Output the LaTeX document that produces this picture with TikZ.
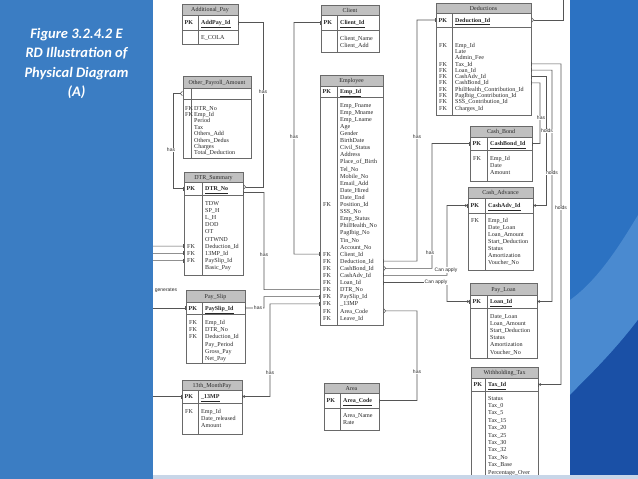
\documentclass[tikz,border=0pt]{standalone}
\usepackage{fontspec}
\setmainfont{Liberation Serif}
\newfontfamily\titlefont{Carlito}
\newfontfamily\lblfont{Liberation Sans}
\usetikzlibrary{arrows.meta,fit}

\definecolor{panel}{RGB}{59,125,195}
\definecolor{hdrc}{RGB}{192,192,192}
\definecolor{tblc}{RGB}{105,105,105}
\definecolor{txtc}{RGB}{40,40,40}
\definecolor{linec}{RGB}{85,85,85}
\definecolor{stripA}{RGB}{44,114,194}
\definecolor{stripL}{RGB}{74,138,208}
\definecolor{stripD}{RGB}{26,80,166}
\definecolor{bottomc}{RGB}{200,214,232}

\tikzset{
  tbl/.style={draw=tblc, line width=0.75pt},
  ttl/.style={font=\fontsize{6}{6}\selectfont, text=txtc, inner sep=0, anchor=base},
  pkt/.style={font=\fontsize{6}{6}\selectfont\bfseries, text=txtc, inner sep=0, anchor=base west},
  fldt/.style={font=\fontsize{6.1}{6}\selectfont, text=txtc, inner sep=0, anchor=base west},
  conn/.style={draw=linec, line width=0.55pt},
  lbl/.style={font=\lblfont\fontsize{5}{5}\selectfont, text=txtc, inner sep=0.5pt, fill=white},
  titlet/.style={font=\titlefont\bfseries\itshape\fontsize{14.5}{19.3}\selectfont, text=white, align=center, inner sep=0}
}

% name x1 x2 div ytop yh ypk ybot title
\newcommand\ertable[9]{%
  \fill[hdrc] (#2,#5) rectangle (#3,#6);
  \draw[tbl] (#2,#6) -- (#3,#6);
  \draw[tbl] (#2,#7) -- (#3,#7);
  \draw[tbl] (#4,#6) -- (#4,#8);
  \node[tbl, fit={(#2,#5) (#3,#8)}, inner sep=0pt] (#1) {};
  \node[ttl] (#1-title) at ({(#2+#3)/2},{(#5+#6)/2+2.1}) {#9};
  \coordinate (#1-pky) at (#2,{(#6+#7)/2});
}
% name x1 div y key
\newcommand\erpk[5]{%
  \node[pkt] (#1-pkl) at (#2+2.5,#4+2.1) {PK};
  \node[pkt] (#1-pkn) at (#3+3,#4+2.1) {\underline{#5}};
}
% name x yfirst sp list
\newcommand\errows[5]{%
  \foreach \t [count=\i from 0] in {#5} {
    \node[fldt] (#1-f\i) at (#2,{#3+\i*#4+2.1}) {\t};
    \coordinate (#1-r\i) at (#2,{#3+\i*#4});
  }
}
% name x yfirst sp indices
\newcommand\erfk[5]{%
  \foreach \i in {#5} {\node[fldt] (#1-k\i) at (#2,{#3+\i*#4+2.1}) {FK};}
}

\begin{document}
\begin{tikzpicture}[x=1pt,y=-1pt]
\useasboundingbox (0,0) rectangle (638,479);
\clip (0,0) rectangle (638,479);
\fill[white] (0,0) rectangle (638,479);

% ---------- free ends ----------
\coordinate (lfA) at (150,246.2);
\coordinate (lfB) at (150,253.4);
\coordinate (lfC) at (150,260.6);
\coordinate (lfD) at (150,308);
\coordinate (lfE) at (150,396.5);
\coordinate (topR) at (563,-3);

% ---------- tables ----------
\ertable{addp}{182}{238}{198}{4}{15}{30}{44}{Additional\_Pay}
\erpk{addp}{182}{198}{22.5}{AddPay\_Id}
\errows{addp}{201}{37}{7}{E\_COLA}

\ertable{opa}{183}{251}{191}{76}{88}{99}{158}{Other\_Payroll\_Amount}
\errows{opa}{194}{108}{6.4}{DTR\_No,Emp\_Id,Period,Tax,Others\_Add,Others\_Dedus,Charges,Total\_Deduction}
\erfk{opa}{185}{108}{6.4}{0,1}

\ertable{dtr}{184}{243}{202}{172}{182}{195}{275}{DTR\_Summary}
\erpk{dtr}{184}{202}{188.5}{DTR\_No}
\errows{dtr}{205}{203}{7.2}{TDW,SP\_H,L\_H,DOD,OT,OTWND,Deduction\_Id,13MP\_Id,PaySlip\_Id,Basic\_Pay}
\erfk{dtr}{187}{203}{7.2}{6,7,8}

\ertable{pays}{186}{245}{202}{290}{302}{314}{363}{Pay\_Slip}
\erpk{pays}{186}{202}{308}{PaySlip\_Id}
\errows{pays}{205}{322}{7.3}{Emp\_Id,DTR\_No,Deduction\_Id,Pay\_Period,Gross\_Pay,Net\_Pay}
\erfk{pays}{189}{322}{7.3}{0,1,2}

\ertable{m13}{182}{242}{198}{380}{390}{403}{434}{13th\_MonthPay}
\erpk{m13}{182}{198}{396.5}{\_13MP}
\errows{m13}{201}{411}{7.3}{Emp\_Id,Date\_released,Amount}
\erfk{m13}{185}{411}{7.3}{0}

\ertable{client}{321}{379}{337}{5}{15}{30}{52}{Client}
\erpk{client}{321}{337}{22.5}{Client\_Id}
\errows{client}{340}{38}{7}{Client\_Name,Client\_Add}

\ertable{emp}{320}{383}{337}{75}{86}{97}{325}{Employee}
\erpk{emp}{320}{337}{91.5}{Emp\_Id}
\errows{emp}{340}{105}{7.1}{Emp\_Fname,Emp\_Mname,Emp\_Lname,Age,Gender,BirthDate,Civil\_Status,Address,Place\_of\_Birth,Tel\_No,Mobile\_No,Email\_Add,Date\_Hired,Date\_End,Position\_Id,SSS\_No,Emp\_Status,PhilHealth\_No,PagIbig\_No,Tin\_No,Account\_No,Client\_Id,Deduction\_Id,CashBond\_Id,CashAdv\_Id,Loan\_Id,DTR\_No,PaySlip\_Id,\_13MP,Area\_Code,Leave\_Id}
\erfk{emp}{323}{105}{7.1}{14,21,22,23,24,25,26,27,28,29,30}

\ertable{ded}{436}{531}{452}{3}{13}{27}{115}{Deductions}
\erpk{ded}{436}{452}{20}{Deduction\_Id}
\errows{ded}{455}{45}{6.3}{Emp\_Id,Late,Admin\_Fee,Tax\_Id,Loan\_Id,CashAdv\_Id,CashBond\_Id,PhilHealth\_Contribution\_Id,PagIbig\_Contribution\_Id,SSS\_Contribution\_Id,Charges\_Id}
\erfk{ded}{439}{45}{6.3}{0,3,4,5,6,7,8,9,10}

\ertable{cbond}{470}{532}{487}{126}{137}{150}{181}{Cash\_Bond}
\erpk{cbond}{470}{487}{143.5}{CashBond\_Id}
\errows{cbond}{490}{158}{7.3}{Emp\_Id,Date,Amount}
\erfk{cbond}{473}{158}{7.3}{0}

\ertable{cadv}{468}{533}{485}{187}{198}{213}{270}{Cash\_Advance}
\erpk{cadv}{468}{485}{205.5}{CashAdv\_Id}
\errows{cadv}{488}{220}{7.1}{Emp\_Id,Date\_Loan,Loan\_Amount,Start\_Deduction,Status,Amortization,Voucher\_No}
\erfk{cadv}{471}{220}{7.1}{0}

\ertable{ploan}{470}{537}{487}{283}{295}{308}{358}{Pay\_Loan}
\erpk{ploan}{470}{487}{301.5}{Loan\_Id}
\errows{ploan}{490}{316}{7.2}{Date\_Loan,Loan\_Amount,Start\_Deduction,Status,Amortization,Voucher\_No}

\ertable{wtax}{471}{538}{485}{367}{378}{391}{484}{Withholding\_Tax}
\erpk{wtax}{471}{485}{384.5}{Tax\_Id}
\errows{wtax}{488}{398}{7.4}{Status,Tax\_0,Tax\_5,Tax\_15,Tax\_20,Tax\_25,Tax\_30,Tax\_32,Tax\_No,Tax\_Base,Percentage\_Over}

\ertable{area}{324}{379}{340}{383}{393}{408}{430}{Area}
\erpk{area}{324}{340}{400.5}{Area\_Code}
\errows{area}{343}{415}{7}{Area\_Name,Rate}

% ---------- connectors ----------
\draw[conn,{Bar[width=4pt]}-{Straight Barb[reversed,length=2pt,width=4.5pt]}]
  (addp.east |- addp-pky) -- (263,22.5) -- (263,187) -- (dtr.east |- 0,187);
\draw[conn,{Straight Barb[reversed,length=2pt,width=4.5pt]}-{Bar[width=4pt]}]
  (opa.west |- opa-pky) -- (173,93.5) -- (173,188.5) -- (dtr.west |- dtr-pky);
\draw[conn,{Bar[width=4pt]}-]
  (dtr.east |- 0,192.5) -- (264,192.5) -- (264,289.6) -- (emp.west |- emp-r26);
\draw[conn,{Bar[width=4pt]}-{Bar[width=4pt]}]
  (pays.east |- pays-pky) -- (264,308) -- (264,296.7) -- (emp.west |- emp-r27);
\draw[conn,{Bar[width=4pt]}-{Circle[open,length=2.6pt,width=2.6pt] Bar[width=4pt]}]
  (emp.west |- emp-r28) -- (270,303.8) -- (270,396.5) -- (m13.east |- m13-pky);
\draw[conn,{Bar[width=4pt]}-{Bar[width=4pt]}]
  (client.west |- client-pky) -- (294,22.5) -- (294,254.1) -- (emp.west |- emp-r21);
\draw[conn,{Bar[width=4pt]}-{Bar[width=4pt]}]
  (emp.east |- emp-r22) -- (417,261.2) -- (417,20) -- (ded.west |- ded-pky);
\draw[conn,{Straight Barb[reversed,length=2pt,width=4.5pt]}-{Bar[width=4pt]}]
  (emp.east |- emp-r23) -- (432,268.3) -- (432,143.5) -- (cbond.west |- cbond-pky);
\draw[conn,{Bar[width=4pt]}-{Circle[open,length=2.6pt,width=2.6pt] Bar[width=4pt]}]
  (emp.east |- emp-r24) -- (447,275.4) -- (447,205.5) -- (cadv.west |- cadv-pky);
\draw[conn,{Bar[width=4pt]}-{Circle[open,length=2.6pt,width=2.6pt] Bar[width=4pt]}]
  (emp.east |- emp-r25) -- (447,282.5) -- (447,301.5) -- (ploan.west |- ploan-pky);
\draw[conn,{Straight Barb[reversed,length=2pt,width=4.5pt]}-{Bar[width=4pt]}]
  (emp.east |- emp-r29) -- (417,310.9) -- (417,400.5) -- (area.east |- area-pky);
\draw[conn,{Straight Barb[reversed,length=2pt,width=4.5pt]}-]
  (ded.east |- ded-pky) -- (563,20) -- (topR);
\draw[conn,{Bar[width=4pt]}-{Circle[open,length=2.6pt,width=2.6pt] Bar[width=4pt]}]
  (ded.east |- ded-r3) -- (561,63.9) -- (561,384.5) -- (wtax.east |- wtax-pky);
\draw[conn,{Bar[width=4pt]}-{Circle[open,length=2.6pt,width=2.6pt] Bar[width=4pt]}]
  (ded.east |- ded-r4) -- (552,70.2) -- (552,301.5) -- (ploan.east |- ploan-pky);
\draw[conn,{Bar[width=4pt]}-{Circle[open,length=2.6pt,width=2.6pt] Bar[width=4pt]}]
  (ded.east |- ded-r5) -- (546,76.5) -- (546,205.5) -- (cadv.east |- cadv-pky);
\draw[conn,{Bar[width=4pt]}-{Bar[width=4pt]}]
  (ded.east |- ded-r6) -- (540,82.8) -- (540,143.5) -- (cbond.east |- cbond-pky);
\draw[conn,-{Bar[width=4pt]}] (lfA) -- (dtr.west |- dtr-r6);
\draw[conn,-{Bar[width=4pt]}] (lfB) -- (dtr.west |- dtr-r7);
\draw[conn,-{Bar[width=4pt]}] (lfC) -- (dtr.west |- dtr-r8);
\draw[conn,-{Bar[width=4pt]}] (lfD) -- (pays.west |- pays-pky);
\draw[conn,-{Bar[width=4pt]}] (lfE) -- (m13.west |- m13-pky);

% ---------- labels ----------
\node[lbl] (l1) at (263,92) {has};
\node[lbl] (l2) at (171,150) {has};
\node[lbl] (l3) at (264,255) {has};
\node[lbl] (l4) at (258,308) {has};
\node[lbl] (l5) at (270,373) {has};
\node[lbl] (l6) at (294,137) {has};
\node[lbl] (l7) at (417,137) {has};
\node[lbl] (l8) at (430,253) {has};
\node[lbl] (l9) at (446,270) {Can apply};
\node[lbl] (l10) at (436,282.5) {Can apply};
\node[lbl] (l11) at (417,372) {has};
\node[lbl] (l12) at (541,118) {has};
\node[lbl] (l13) at (547,131) {holds};
\node[lbl] (l14) at (552,173) {holds};
\node[lbl] (l15) at (561,208) {holds};
\node[lbl] (l16) at (166,290) {generates};

% ---------- frame ----------
\fill[stripA] (570,0) rectangle (638,479);
\fill[stripL] (570,300) .. controls (598,280) and (620,245) .. (638,215) -- (638,320) .. controls (615,350) and (595,370) .. (570,395) -- cycle;
\fill[stripD] (570,395) .. controls (595,370) and (615,350) .. (638,320) -- (638,479) -- (570,479) -- cycle;
\fill[bottomc] (153,475) rectangle (638,479);
\fill[panel] (0,0) rectangle (153,479);
\node[titlet] (title) at (76.5,63.5) {Figure 3.2.4.2 E\\RD Illustration of\\Physical Diagram\\(A)};
\end{tikzpicture}
\end{document}
